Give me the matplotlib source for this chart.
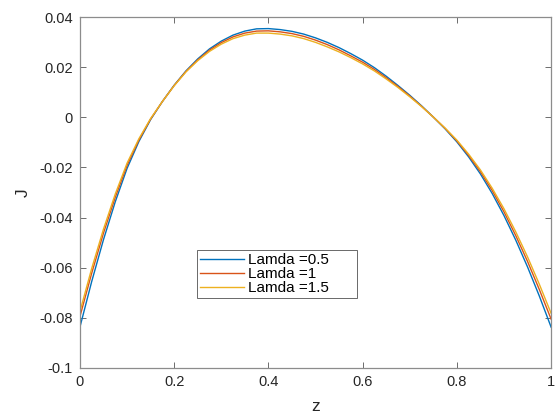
import matplotlib
matplotlib.use("Agg")
import matplotlib.pyplot as plt

z = [0.000, 0.025, 0.050, 0.075, 0.100, 0.125, 0.150, 0.175, 0.200, 0.225,
     0.250, 0.275, 0.300, 0.325, 0.350, 0.375, 0.400, 0.425, 0.450, 0.475,
     0.500, 0.525, 0.550, 0.575, 0.600, 0.625, 0.650, 0.675, 0.700, 0.725,
     0.750, 0.775, 0.800, 0.825, 0.850, 0.875, 0.900, 0.925, 0.950, 0.975,
     1.000]

J_lamda_05 = [-0.0837, -0.0655, -0.0488, -0.0337, -0.0204, -0.0097, -0.0009,
              0.0063, 0.0128, 0.0185, 0.0233, 0.0273, 0.0304, 0.0328, 0.0344,
              0.0353, 0.0354, 0.0350, 0.0343, 0.0332, 0.0317, 0.0299, 0.0278,
              0.0254, 0.0228, 0.0198, 0.0164, 0.0127, 0.0088, 0.0046, 0.0001,
              -0.0046, -0.0098, -0.0158, -0.0226, -0.0304, -0.0392, -0.0490,
              -0.0597, -0.0713, -0.0837]
J_lamda_1 = [-0.0795, -0.0622, -0.0462, -0.0319, -0.0192, -0.0091, -0.0007,
             0.0063, 0.0127, 0.0183, 0.0229, 0.0268, 0.0298, 0.0321, 0.0336,
             0.0344, 0.0345, 0.0341, 0.0334, 0.0323, 0.0308, 0.0290, 0.0269,
             0.0245, 0.0220, 0.0191, 0.0158, 0.0123, 0.0085, 0.0044, 0.0001,
             -0.0044, -0.0094, -0.0152, -0.0217, -0.0292, -0.0377, -0.0472,
             -0.0575, -0.0687, -0.0805]
J_lamda_15 = [-0.0775, -0.0603, -0.0446, -0.0306, -0.0183, -0.0086, -0.0005,
              0.0063, 0.0126, 0.0181, 0.0226, 0.0263, 0.0292, 0.0314, 0.0328,
              0.0336, 0.0336, 0.0332, 0.0325, 0.0314, 0.0299, 0.0281, 0.0261,
              0.0238, 0.0213, 0.0185, 0.0153, 0.0119, 0.0082, 0.0043, 0.0001,
              -0.0043, -0.0091, -0.0147, -0.0210, -0.0283, -0.0365, -0.0457,
              -0.0557, -0.0666, -0.0782]

labels = ["Lamda =0.5", "Lamda =1", "Lamda =1.5"]
colors = ["#0072BD", "#D95319", "#EDB120"]

xticks = [0, 0.2, 0.4, 0.6, 0.8, 1]
xticklabels = ["0", "0.2", "0.4", "0.6", "0.8", "1"]
yticks = [-0.1, -0.08, -0.06, -0.04, -0.02, 0, 0.02, 0.04]
yticklabels = ["-0.1", "-0.08", "-0.06", "-0.04", "-0.02", "0", "0.02", "0.04"]

plt.rcParams["font.family"] = ["Liberation Sans", "DejaVu Sans"]

fig = plt.figure(figsize=(5.55, 4.16), dpi=100)
ax = fig.add_axes([0.144, 0.1154, 0.849, 0.8436])

for ys, lab, c in zip([J_lamda_05, J_lamda_1, J_lamda_15], labels, colors):
    ax.plot(z, ys, color=c, lw=1.0, label=lab)

ax.set_xlim(0, 1)
ax.set_ylim(-0.1, 0.04)
ax.set_xticks(xticks)
ax.set_xticklabels(xticklabels)
ax.set_yticks(yticks)
ax.set_yticklabels(yticklabels)

axis_color = "#262626"
for s in ax.spines.values():
    s.set_color("#8c8c8c")
    s.set_linewidth(0.9)
ax.tick_params(direction="in", length=4, width=0.6, color="#555555",
               labelsize=10.5, labelcolor=axis_color, top=True, right=True,
               pad=5)

ax.set_xlabel("z", fontsize=12.5, color=axis_color, labelpad=7)
ax.set_ylabel("J", fontsize=12.5, color=axis_color, labelpad=6)

leg_w, leg_h = 0.34, 0.137
leg = ax.legend(loc="upper left", bbox_to_anchor=(0.248, 0.336 - leg_h, leg_w, leg_h),
                mode="expand", fontsize=11, frameon=True, fancybox=False,
                handlelength=2.9, handletextpad=0.25, borderpad=0.2,
                labelspacing=0.0, borderaxespad=0)
leg.get_frame().set_edgecolor("#262626")
leg.get_frame().set_linewidth(0.6)

fig.savefig("out.png", dpi=100)
